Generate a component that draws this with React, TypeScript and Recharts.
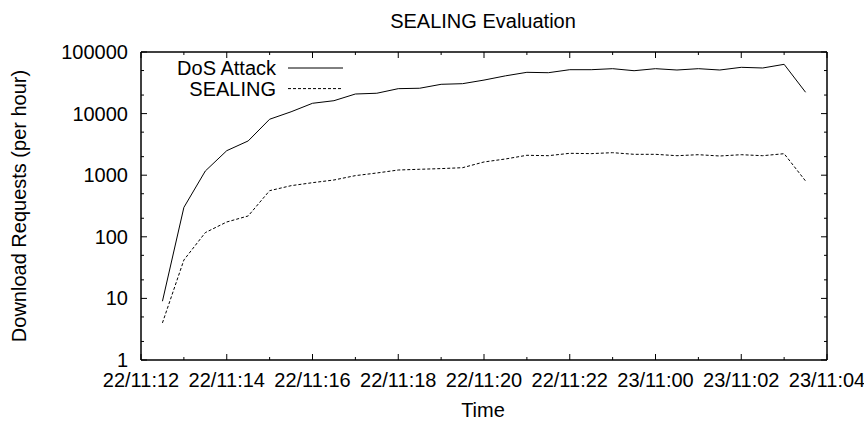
import { LineChart, Line, XAxis, YAxis, Legend } from 'recharts';

// samples every 30 min
const times = [
  '22/11 12:30', '22/11 13:00', '22/11 13:30', '22/11 14:00', '22/11 14:30', '22/11 15:00',
  '22/11 15:30', '22/11 16:00', '22/11 16:30', '22/11 17:00', '22/11 17:30', '22/11 18:00',
  '22/11 18:30', '22/11 19:00', '22/11 19:30', '22/11 20:00', '22/11 20:30', '22/11 21:00',
  '22/11 21:30', '22/11 22:00', '22/11 22:30', '22/11 23:00', '22/11 23:30', '23/11 00:00',
  '23/11 00:30', '23/11 01:00', '23/11 01:30', '23/11 02:00', '23/11 02:30', '23/11 03:00',
  '23/11 03:30',
];
const dosAttack = [
  9, 300, 1170, 2500, 3600, 8100, 10700, 14700, 16200, 20800, 21400, 25400, 25800, 29900, 30600,
  35000, 41000, 46800, 46100, 51600, 51600, 53600, 49700, 53600, 51000, 53600, 51000, 56400,
  55000, 63100, 22200,
];
const sealing = [
  4, 42, 117, 174, 218, 561, 676, 756, 836, 984, 1086, 1214, 1248, 1280, 1324, 1640, 1833, 2105,
  2073, 2266, 2240, 2321, 2183, 2183, 2073, 2152, 2050, 2152, 2073, 2234, 805,
];
const xTickLabels = [
  '22/11:12', '22/11:14', '22/11:16', '22/11:18', '22/11:20', '22/11:22', '23/11:00', '23/11:02', '23/11:04',
];
const yTicks = [1, 2, 5, 10, 20, 50, 100, 200, 500, 1000, 2000, 5000, 10000, 20000, 50000, 100000];

const series = [
  { key: 'dos', name: 'DoS Attack', dash: undefined as string | undefined },
  { key: 'sealing', name: 'SEALING', dash: '3 2' },
];

// hours since 22/11 12:00
const toHours = (s: string) => {
  const [d, hm] = s.split(' ');
  const [h, m] = hm.split(':').map(Number);
  return (Number(d.split('/')[0]) - 22) * 24 + h + m / 60 - 12;
};

const rows = times.map((t, i) => ({ t: toHours(t), dos: dosAttack[i], sealing: sealing[i] }));
const hourTicks = Array.from({ length: 17 }, (_, i) => i);

const FONT = '"Liberation Sans", Arial, Helvetica, sans-serif';
const isMajorY = (v: number) => Math.abs(Math.log10(v) % 1) < 1e-9;

const BottomTick = ({ x, y, payload }: any) => {
  const major = payload.value % 2 === 0;
  return (
    <g>
      <line x1={x} y1={y} x2={x} y2={y - (major ? 6 : 3)} stroke="#000" />
      {major && (
        <text x={x} y={y + 27} textAnchor="middle" fontSize={20} fontFamily={FONT} fill="#000">
          {xTickLabels[payload.value / 2]}
        </text>
      )}
    </g>
  );
};

const TopTick = ({ x, y, payload }: any) => (
  <line x1={x} y1={y} x2={x} y2={y + (payload.value % 2 === 0 ? 6 : 3)} stroke="#000" />
);

const LeftTick = ({ x, y, payload }: any) => {
  const major = isMajorY(payload.value);
  return (
    <g>
      <line x1={x} y1={y} x2={x + (major ? 6 : 3)} y2={y} stroke="#000" />
      {major && (
        <text x={x - 13} y={y + 7} textAnchor="end" fontSize={20} fontFamily={FONT} fill="#000">
          {payload.value}
        </text>
      )}
    </g>
  );
};

const RightTick = ({ x, y, payload }: any) => (
  <line x1={x} y1={y} x2={x - (isMajorY(payload.value) ? 6 : 3)} y2={y} stroke="#000" />
);

const renderLegend = () => (
  <svg width={210} height={52} style={{ overflow: 'visible' }}>
    {series.map((s, i) => (
      <g key={s.key}>
        <text x={126} y={12 + i * 20.6 + 7} textAnchor="end" fontSize={20} fontFamily={FONT} fill="#000">
          {s.name}
        </text>
        <line x1={138} x2={193} y1={12 + i * 20.6} y2={12 + i * 20.6} stroke="#000" strokeDasharray={s.dash} />
      </g>
    ))}
  </svg>
);

export default function App() {
  const axisLine = { stroke: '#000', strokeWidth: 1.5 };
  return (
    <div style={{ position: 'absolute', left: 0, top: 0, width: 864, height: 421, background: '#fff' }}>
      <LineChart width={864} height={421} data={rows} margin={{ top: 0, right: 0, bottom: 0, left: 0 }}>
        <XAxis
          xAxisId="b" type="number" dataKey="t" domain={[0, 16]} ticks={hourTicks} interval={0}
          height={61} tickSize={0} tickMargin={0} tickLine={false} axisLine={axisLine} tick={BottomTick}
          allowDataOverflow
        />
        <XAxis
          xAxisId="t" orientation="top" type="number" dataKey="t" domain={[0, 16]} ticks={hourTicks} interval={0}
          height={52} tickSize={0} tickMargin={0} tickLine={false} axisLine={axisLine} tick={TopTick}
          allowDataOverflow
        />
        <YAxis
          yAxisId="l" scale="log" domain={[1, 100000]} ticks={yTicks} interval={0} width={141}
          tickSize={0} tickMargin={0} tickLine={false} axisLine={axisLine} tick={LeftTick} allowDataOverflow
        />
        <YAxis
          yAxisId="r" orientation="right" scale="log" domain={[1, 100000]} ticks={yTicks} interval={0} width={37}
          tickSize={0} tickMargin={0} tickLine={false} axisLine={axisLine} tick={RightTick} allowDataOverflow
        />
        <Legend
          layout="vertical" align="center" verticalAlign="middle" content={renderLegend}
          wrapperStyle={{ left: 150, top: 56, width: 210, height: 52 }}
        />
        {series.map((s) => (
          <Line
            key={s.key} xAxisId="b" yAxisId="l" type="linear" dataKey={s.key} name={s.name}
            stroke="#000" strokeWidth={1} strokeDasharray={s.dash} dot={false} activeDot={false}
            isAnimationActive={false}
          />
        ))}
      </LineChart>
      <svg width={864} height={421} style={{ position: 'absolute', left: 0, top: 0, pointerEvents: 'none' }}>
        <text x={483} y={28} textAnchor="middle" fontSize={20} fontFamily={FONT} fill="#000">
          SEALING Evaluation
        </text>
        <text x={483} y={417} textAnchor="middle" fontSize={20} fontFamily={FONT} fill="#000">
          Time
        </text>
        <text
          x={26} y={206} textAnchor="middle" fontSize={20} fontFamily={FONT} fill="#000"
          transform="rotate(-90 26 206)"
        >
          Download Requests (per hour)
        </text>
      </svg>
    </div>
  );
}
